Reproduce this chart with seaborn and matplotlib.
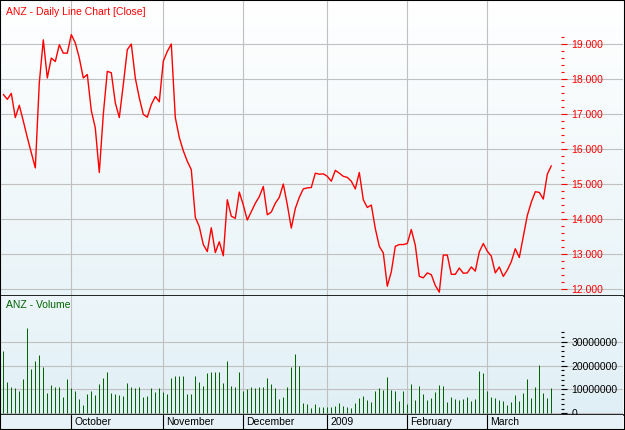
import numpy as np
import pandas as pd
import matplotlib.pyplot as plt
import seaborn as sns
from matplotlib.ticker import FixedLocator, FuncFormatter
from matplotlib.patches import Rectangle

# ANZ daily close and volume, trading days 8 Sep 2008 - 24 Mar 2009
close = [17.56, 17.42, 17.59, 16.90, 17.25, 16.80, 16.33, 15.90, 15.46, 17.89,
         19.12, 18.03, 18.60, 18.50, 18.98, 18.74, 18.74, 19.27, 19.03, 18.60,
         18.03, 18.13, 17.10, 16.60, 15.33, 16.99, 18.22, 18.18, 17.32, 16.90,
         17.84, 18.84, 19.00, 18.03, 17.46, 16.99, 16.91, 17.27, 17.50, 17.35,
         18.51, 18.79, 19.00, 16.90, 16.33, 15.95, 15.65, 15.41, 14.05, 13.78,
         13.27, 13.07, 13.75, 13.04, 13.35, 12.95, 14.55, 14.08, 14.02, 14.77,
         14.40, 13.97, 14.21, 14.45, 14.64, 14.93, 14.12, 14.20, 14.45, 14.62,
         15.00, 14.41, 13.74, 14.30, 14.62, 14.86, 14.89, 14.90, 15.31, 15.28,
         15.29, 15.22, 15.08, 15.39, 15.31, 15.22, 15.19, 15.08, 14.86, 15.33,
         14.55, 14.33, 14.40, 13.73, 13.22, 13.03, 12.08, 12.49, 13.22, 13.27,
         13.27, 13.30, 13.70, 13.25, 12.36, 12.32, 12.46, 12.41, 12.10, 11.91,
         12.97, 12.97, 12.42, 12.42, 12.60, 12.45, 12.46, 12.63, 12.51, 13.06,
         13.30, 13.08, 12.94, 12.46, 12.63, 12.36, 12.54, 12.78, 13.15, 12.90,
         13.50, 14.10, 14.48, 14.78, 14.76, 14.57, 15.28, 15.52]

volume_m = [26.1, 13.2, 10.9, 10.5, 9.5, 14.4, 35.8, 18.5, 21.9, 24.4,
            19.4, 8.5, 11.9, 11.0, 11.0, 6.8, 14.4, 10.7, 9.3, 6.1,
            3.5, 7.9, 9.3, 7.7, 12.3, 14.9, 17.3, 8.5, 8.1, 7.7,
            7.3, 12.7, 11.0, 10.7, 11.0, 6.8, 7.3, 10.6, 9.1, 10.6,
            9.0, 8.1, 14.9, 15.6, 15.6, 15.6, 8.1, 8.1, 15.6, 13.2,
            11.3, 16.9, 17.3, 17.3, 17.3, 12.7, 21.9, 11.3, 11.0, 17.3,
            9.3, 10.2, 11.0, 10.5, 11.0, 11.0, 14.8, 12.3, 10.7, 6.0,
            6.8, 11.0, 19.4, 25.0, 19.8, 4.3, 3.9, 2.2, 3.9, 2.6,
            2.6, 2.8, 2.6, 3.1, 4.3, 2.9, 2.6, 2.2, 4.3, 6.4,
            7.3, 5.6, 4.7, 9.3, 10.6, 9.8, 15.2, 9.8, 9.3, 5.2,
            9.3, 3.9, 12.3, 5.6, 11.4, 8.1, 5.6, 6.4, 8.9, 11.9,
            11.4, 4.7, 6.8, 6.0, 5.7, 6.0, 6.8, 5.2, 6.0, 17.7,
            16.9, 9.3, 6.8, 6.4, 5.6, 5.2, 3.5, 4.7, 7.7, 5.2,
            8.5, 14.4, 6.4, 11.0, 20.2, 8.5, 6.4, 10.6]

holidays = ['2008-12-25', '2008-12-26', '2009-01-01', '2009-01-26']
month_names = ['October', 'November', 'December', '2009', 'February', 'March']
price_ticks = [12, 13, 14, 15, 16, 17, 18, 19]
volume_ticks = [0, 10000000, 20000000, 30000000]

days = pd.bdate_range('2008-09-08', '2009-03-24', freq='C', holidays=holidays)
df = pd.DataFrame({'day': np.arange(len(days)), 'close': close,
                   'volume': np.array(volume_m) * 1e6})
month_pos = [i for i in range(1, len(days)) if days[i].month != days[i - 1].month]

sns.set_theme(style='white')
plt.rcParams['font.family'] = ['Liberation Sans', 'DejaVu Sans']

W, H = 625, 430
fig = plt.figure(figsize=(W / 100, H / 100), dpi=100)
fig.patch.set_facecolor('white')

def rect(x0, y0, x1, y1):
    return [x0 / W, 1 - y1 / H, (x1 - x0) / W, (y1 - y0) / H]

ax1 = fig.add_axes(rect(1, 1, 623, 296))
ax2 = fig.add_axes(rect(1, 296, 623, 415))
ax3 = fig.add_axes(rect(1, 415, 623, 429))

grid_col = '#c0c0c0'
green = '#006400'
xlim = (-0.575, 154.925)
axis_x = 139.425


def gradient(ax, top, bottom):
    c1 = np.array(plt.matplotlib.colors.to_rgb(top))
    c2 = np.array(plt.matplotlib.colors.to_rgb(bottom))
    t = np.linspace(0, 1, 256)[:, None]
    img = (c1 * (1 - t) + c2 * t)[:, None, :]
    ax.imshow(img, aspect='auto', extent=[0, 1, 0, 1], transform=ax.transAxes,
              zorder=0, interpolation='bilinear')


# price panel
gradient(ax1, '#ffffff', '#e9f4f8')
sns.lineplot(data=df, x='day', y='close', ax=ax1, color='#ff0000', lw=1.0, zorder=3)
ax1.set_xlim(*xlim)
ax1.set_ylim(11.8, 20.23)
ax1.set_xticks(month_pos)
ax1.set_yticks(price_ticks)
ax1.yaxis.set_minor_locator(FixedLocator(np.arange(12, 19.21, 0.2)))
ax1.yaxis.set_major_formatter(FuncFormatter(lambda v, p: f'{v:.3f}'))
ax1.yaxis.tick_right()
ax1.spines['right'].set_position(('data', axis_x))
ax1.spines['right'].set_edgecolor('none')
for s in ['left', 'top']:
    ax1.spines[s].set_visible(False)
ax1.spines['bottom'].set_color('black')
ax1.spines['bottom'].set_linewidth(1.2)
ax1.tick_params(axis='x', bottom=False, labelbottom=False)
ax1.tick_params(axis='y', which='major', length=4.3, width=0.8, color='red',
                labelcolor='red', labelsize=7.5, pad=3.4, direction='out', right=True)
ax1.tick_params(axis='y', which='minor', length=2, width=0.8, color='red', right=True)
ax1.grid(True, which='major', color=grid_col, lw=0.8)
ax1.set_axisbelow(True)
ax1.set_xlabel('')
ax1.set_ylabel('')

# volume panel
gradient(ax2, '#edf6fa', '#dfeff5')
ax2.vlines(df['day'], 0, df['volume'], color=green, lw=0.72, zorder=3)
ax2.set_xlim(*xlim)
ax2.set_ylim(-0.71e6, 49.1e6)
ax2.set_xticks(month_pos)
ax2.set_yticks(volume_ticks)
ax2.yaxis.set_minor_locator(FixedLocator(np.arange(0, 34.1e6, 2e6)))
ax2.yaxis.set_major_formatter(FuncFormatter(lambda v, p: f'{v:.0f}'))
ax2.yaxis.tick_right()
ax2.spines['right'].set_position(('data', axis_x))
ax2.spines['right'].set_edgecolor('none')
for s in ['left', 'top']:
    ax2.spines[s].set_visible(False)
ax2.spines['bottom'].set_color('black')
ax2.spines['bottom'].set_linewidth(1.2)
ax2.tick_params(axis='x', bottom=False, labelbottom=False)
ax2.tick_params(axis='y', which='major', length=4.3, width=0.8, color='black',
                labelcolor='black', labelsize=7.5, pad=3.4, direction='out', right=True)
ax2.tick_params(axis='y', which='minor', length=2, width=0.8, color='black', right=True)
ax2.grid(True, which='major', color=grid_col, lw=0.8)
ax2.set_axisbelow(True)

# date strip
ax3.set_facecolor('#e6f2f7')
ax3.set_xlim(*xlim)
ax3.set_ylim(0, 1)
ax3.set_xticks([])
ax3.set_yticks([])
for s in ax3.spines.values():
    s.set_visible(False)
for pos, name in zip(month_pos, month_names):
    ax3.axvline(pos, color='black', lw=0.8)
    ax3.annotate(name, xy=(pos, 0.5), xytext=(2, 0), textcoords='offset points',
                 va='center', ha='left', fontsize=7.5, color='black')

fig.text(6 / W, 1 - 12 / H, 'ANZ - Daily Line Chart [Close]', color='#ff0000',
         fontsize=7.5, va='center', ha='left')
fig.text(6 / W, 1 - 305 / H, 'ANZ - Volume', color=green,
         fontsize=7.5, va='center', ha='left')

fig.patches.append(Rectangle((0, 0), 1, 1, transform=fig.transFigure, fill=False,
                             edgecolor='black', lw=1.5))

plt.savefig('out.png', dpi=100)
